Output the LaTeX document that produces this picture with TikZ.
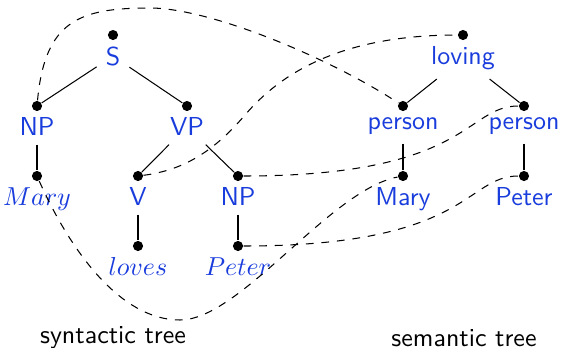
\documentclass[tikz,border=0pt]{standalone}
\definecolor{lblue}{RGB}{25,60,220}
\begin{document}
\begin{tikzpicture}[x=0.385pt,y=-0.385pt,
  dot/.style={circle,fill=black,inner sep=0pt,minimum size=3.9pt},
  lab/.style={anchor=north,text=lblue,font=\sffamily,yshift=-0.9pt},
  ilab/.style={anchor=north,text=lblue,yshift=-0.9pt},
  captext/.style={anchor=base,font=\sffamily},
  link/.style={dashed}]
\useasboundingbox (0,0) rectangle (561,348);
% syntactic tree dots
\node[dot] (dS) at (113,35) {};
\node[dot] (dNP) at (37,106) {};
\node[dot] (dVP) at (187,106) {};
\node[dot] (dMary) at (37,176) {};
\node[dot] (dV) at (138,176) {};
\node[dot] (dNPb) at (238,176) {};
\node[dot] (dloves) at (138,246) {};
\node[dot] (dPeter) at (238,246) {};
% semantic tree dots
\node[dot] (dloving) at (463,35) {};
\node[dot] (dpa) at (403,106) {};
\node[dot] (dpb) at (524,106) {};
\node[dot] (dMarys) at (403,176) {};
\node[dot] (dPeters) at (524,176) {};
% labels
\node[lab] (S) at (dS) {S};
\node[lab] (NP) at (dNP) {NP};
\node[lab] (VP) at (dVP) {VP};
\node[ilab] (Mary) at (dMary) {$Mary$};
\node[lab] (V) at (dV) {V};
\node[lab] (NPb) at (dNPb) {NP};
\node[ilab] (loves) at (dloves) {$loves$};
\node[ilab] (Peter) at (dPeter) {$Peter$};
\node[lab] (loving) at (dloving) {loving};
\node[lab] (pa) at (dpa) {person};
\node[lab] (pb) at (dpb) {person};
\node[lab] (Marys) at (dMarys) {Mary};
\node[lab] (Peters) at (dPeters) {Peter};
% tree edges
\draw (S) -- (dNP);
\draw (S) -- (dVP);
\draw (NP) -- (dMary);
\draw (VP) -- (dV);
\draw (VP) -- (dNPb);
\draw (V) -- (dloves);
\draw (NPb) -- (dPeter);
\draw (loving) -- (dpa);
\draw (loving) -- (dpb);
\draw (pa) -- (dMarys);
\draw (pb) -- (dPeters);
% dashed links
\draw[link] (dNP) .. controls (45,20) and (80,8) .. (150,8) .. controls (210,8) and (330,58) .. (dpa);
\draw[link] (dV) .. controls (185,170) and (215,150) .. (245,115) .. controls (280,74) and (340,35) .. (dloving);
\draw[link] (dNPb) .. controls (470,176) and (465,106) .. (dpb);
\draw[link] (dMary) .. controls (70,250) and (120,320) .. (180,320) .. controls (240,320) and (330,190) .. (dMarys);
\draw[link] (dPeter) .. controls (470,246) and (465,176) .. (dPeters);
% captions
\node[captext] (syn) at (113,343) {syntactic tree};
\node[captext] (sem) at (464,346) {semantic tree};
\end{tikzpicture}
\end{document}
